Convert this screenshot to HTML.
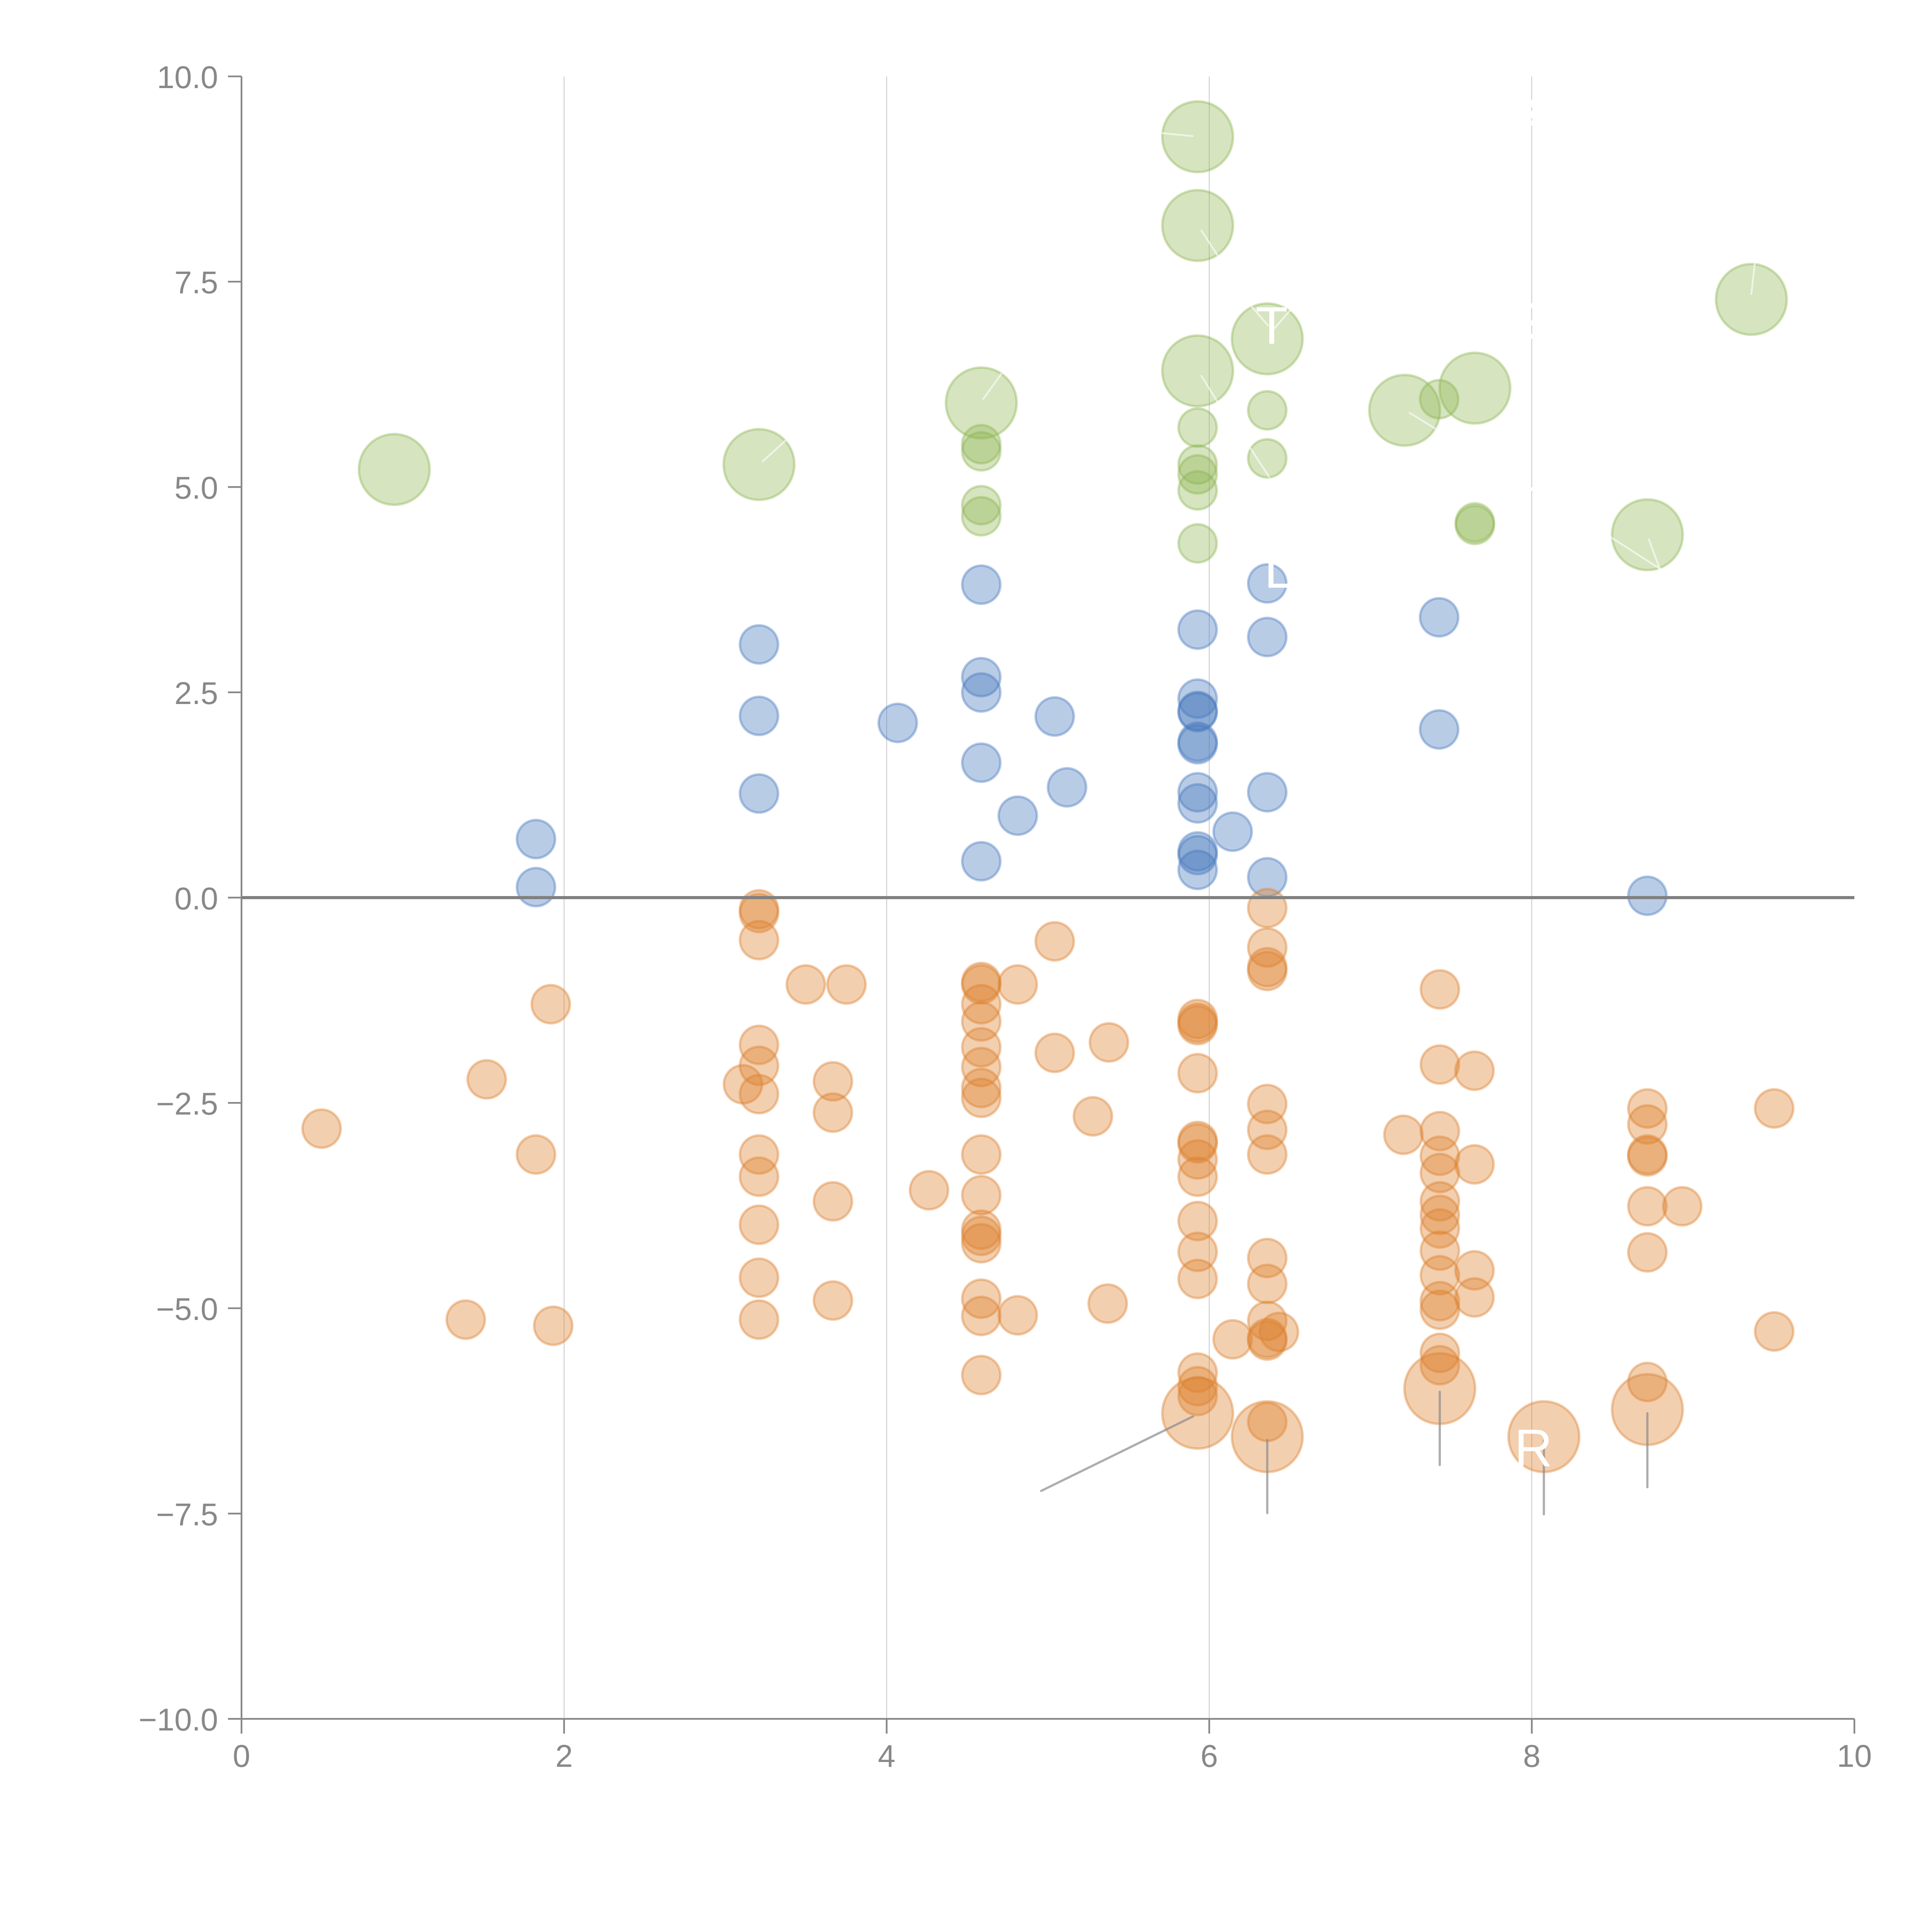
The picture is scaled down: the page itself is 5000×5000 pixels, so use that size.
<!DOCTYPE html>
<html>
<head>
<meta charset="utf-8">
<style>
  html, body { margin: 0; padding: 0; background: #ffffff; }
  svg { display: block; }
  text { font-family: "Liberation Sans", Arial, sans-serif; }
</style>
</head>
<body>
<svg xmlns="http://www.w3.org/2000/svg" width="5000" height="5000" viewBox="0 0 1568 1568">
  <rect x="0" y="0" width="1568" height="1568" fill="#ffffff"/>

  <g stroke="#b0b0b0" stroke-width="0.45">
    <line x1="457.8" y1="62" x2="457.8" y2="1395"/>
    <line x1="719.6" y1="62" x2="719.6" y2="1395"/>
    <line x1="981.4" y1="62" x2="981.4" y2="1395"/>
    <line x1="1243.2" y1="62" x2="1243.2" y2="1395"/>
  </g>
  <g fill="#ffffff">
    <rect x="1241.5" y="81" width="4" height="6"/>
    <rect x="1241.5" y="90" width="4" height="6"/>
    <rect x="1241.5" y="98" width="4" height="4"/>
    <rect x="1241.5" y="246" width="4" height="4"/>
    <rect x="1241.5" y="260" width="4" height="4"/>
    <rect x="1241.5" y="271" width="4" height="4"/>
    <rect x="1241.5" y="395.5" width="4" height="3"/>
  </g>

  <g stroke="#888888" stroke-width="1.4" fill="none">
    <line x1="196" y1="62" x2="196" y2="1395"/>
    <line x1="196" y1="1395" x2="1505" y2="1395"/>
    <line x1="185" y1="62" x2="196" y2="62"/>
    <line x1="185" y1="228.6" x2="196" y2="228.6"/>
    <line x1="185" y1="395.25" x2="196" y2="395.25"/>
    <line x1="185" y1="561.9" x2="196" y2="561.9"/>
    <line x1="185" y1="728.5" x2="196" y2="728.5"/>
    <line x1="185" y1="895.1" x2="196" y2="895.1"/>
    <line x1="185" y1="1061.75" x2="196" y2="1061.75"/>
    <line x1="185" y1="1228.4" x2="196" y2="1228.4"/>
    <line x1="185" y1="1395" x2="196" y2="1395"/>
    <line x1="196" y1="1395" x2="196" y2="1407"/>
    <line x1="457.8" y1="1395" x2="457.8" y2="1407"/>
    <line x1="719.6" y1="1395" x2="719.6" y2="1407"/>
    <line x1="981.4" y1="1395" x2="981.4" y2="1407"/>
    <line x1="1243.2" y1="1395" x2="1243.2" y2="1407"/>
    <line x1="1505" y1="1395" x2="1505" y2="1407"/>
  </g>

  <g fill="#888888" font-size="25.5" text-anchor="end">
    <text x="177" y="71.5">10.0</text>
    <text x="177" y="238.1">7.5</text>
    <text x="177" y="404.75">5.0</text>
    <text x="177" y="571.4">2.5</text>
    <text x="177" y="738">0.0</text>
    <text x="177" y="904.6">−2.5</text>
    <text x="177" y="1071.25">−5.0</text>
    <text x="177" y="1237.9">−7.5</text>
    <text x="177" y="1404.5">−10.0</text>
  </g>
  <g fill="#888888" font-size="25.5" text-anchor="middle">
    <text x="196" y="1434">0</text>
    <text x="457.8" y="1434">2</text>
    <text x="719.6" y="1434">4</text>
    <text x="981.4" y="1434">6</text>
    <text x="1243.2" y="1434">8</text>
    <text x="1505" y="1434">10</text>
  </g>

  <g fill="rgb(140,180,80)" fill-opacity="0.36" stroke="rgb(140,180,80)" stroke-opacity="0.4" stroke-width="2">
    <circle cx="320" cy="381" r="28.7"/>
    <circle cx="616" cy="377" r="28.7"/>
    <circle cx="796.4" cy="327" r="28.7"/>
    <circle cx="972" cy="111" r="28.7"/>
    <circle cx="972" cy="183" r="28.7"/>
    <circle cx="972" cy="301" r="28.7"/>
    <circle cx="1028.5" cy="275" r="28.7"/>
    <circle cx="1140" cy="333" r="28.7"/>
    <circle cx="1197" cy="315" r="28.7"/>
    <circle cx="1421.4" cy="243" r="28.7"/>
    <circle cx="1337" cy="434" r="28.7"/>
    <circle cx="796.4" cy="360.5" r="15.5"/>
    <circle cx="796.4" cy="366.3" r="15.5"/>
    <circle cx="796.4" cy="410" r="15.5"/>
    <circle cx="796.4" cy="419" r="15.5"/>
    <circle cx="972" cy="347" r="15.5"/>
    <circle cx="972" cy="377" r="15.5"/>
    <circle cx="972" cy="385" r="15.5"/>
    <circle cx="972" cy="398" r="15.5"/>
    <circle cx="972" cy="441" r="15.5"/>
    <circle cx="1028.5" cy="333" r="15.5"/>
    <circle cx="1028.5" cy="372" r="15.5"/>
    <circle cx="1168" cy="324" r="15.5"/>
    <circle cx="1197" cy="424" r="15.5"/>
    <circle cx="1197" cy="426" r="15.5"/>
  </g>

  <g fill="rgb(70,120,190)" fill-opacity="0.38" stroke="rgb(70,120,190)" stroke-opacity="0.4" stroke-width="2">
    <circle cx="435" cy="681" r="15.5"/>
    <circle cx="435" cy="720" r="15.5"/>
    <circle cx="616" cy="523" r="15.5"/>
    <circle cx="616" cy="581" r="15.5"/>
    <circle cx="616" cy="644" r="15.5"/>
    <circle cx="728.6" cy="586.7" r="15.5"/>
    <circle cx="796.4" cy="474.5" r="15.5"/>
    <circle cx="796.4" cy="549.6" r="15.5"/>
    <circle cx="796.4" cy="562" r="15.5"/>
    <circle cx="796.4" cy="619" r="15.5"/>
    <circle cx="796.4" cy="699" r="15.5"/>
    <circle cx="826" cy="662" r="15.5"/>
    <circle cx="856" cy="581.5" r="15.5"/>
    <circle cx="866" cy="639" r="15.5"/>
    <circle cx="972" cy="511" r="15.5"/>
    <circle cx="972" cy="567" r="15.5"/>
    <circle cx="972" cy="577" r="15.5"/>
    <circle cx="972" cy="578" r="15.5"/>
    <circle cx="972" cy="602" r="15.5"/>
    <circle cx="972" cy="604" r="15.5"/>
    <circle cx="972" cy="643" r="15.5"/>
    <circle cx="972" cy="652" r="15.5"/>
    <circle cx="972" cy="691" r="15.5"/>
    <circle cx="972" cy="694" r="15.5"/>
    <circle cx="972" cy="706" r="15.5"/>
    <circle cx="1000.4" cy="675" r="15.5"/>
    <circle cx="1028.5" cy="473.5" r="15.5"/>
    <circle cx="1028.5" cy="517" r="15.5"/>
    <circle cx="1028.5" cy="643" r="15.5"/>
    <circle cx="1028.5" cy="712" r="15.5"/>
    <circle cx="1168" cy="501" r="15.5"/>
    <circle cx="1168" cy="592" r="15.5"/>
    <circle cx="1337" cy="727" r="15.5"/>
  </g>

  <g fill="rgb(220,128,45)" fill-opacity="0.38" stroke="rgb(220,128,45)" stroke-opacity="0.4" stroke-width="2">
    <circle cx="261" cy="916" r="15.5"/>
    <circle cx="378" cy="1071" r="15.5"/>
    <circle cx="395" cy="876" r="15.5"/>
    <circle cx="435" cy="937" r="15.5"/>
    <circle cx="447" cy="815" r="15.5"/>
    <circle cx="449" cy="1076" r="15.5"/>
    <circle cx="616" cy="738" r="15.5"/>
    <circle cx="616" cy="741" r="15.5"/>
    <circle cx="616" cy="763" r="15.5"/>
    <circle cx="616" cy="848" r="15.5"/>
    <circle cx="616" cy="865" r="15.5"/>
    <circle cx="616" cy="888" r="15.5"/>
    <circle cx="616" cy="937" r="15.5"/>
    <circle cx="616" cy="955" r="15.5"/>
    <circle cx="616" cy="994" r="15.5"/>
    <circle cx="616" cy="1037" r="15.5"/>
    <circle cx="616" cy="1071" r="15.5"/>
    <circle cx="603" cy="880" r="15.5"/>
    <circle cx="654" cy="799" r="15.5"/>
    <circle cx="687" cy="799" r="15.5"/>
    <circle cx="676" cy="877.6" r="15.5"/>
    <circle cx="676" cy="903" r="15.5"/>
    <circle cx="676" cy="975" r="15.5"/>
    <circle cx="676" cy="1055.5" r="15.5"/>
    <circle cx="754" cy="966" r="15.5"/>
    <circle cx="796.4" cy="797" r="15.5"/>
    <circle cx="796.4" cy="799" r="15.5"/>
    <circle cx="796.4" cy="815" r="15.5"/>
    <circle cx="796.4" cy="829" r="15.5"/>
    <circle cx="796.4" cy="850" r="15.5"/>
    <circle cx="796.4" cy="866" r="15.5"/>
    <circle cx="796.4" cy="883" r="15.5"/>
    <circle cx="796.4" cy="891" r="15.5"/>
    <circle cx="796.4" cy="937" r="15.5"/>
    <circle cx="796.4" cy="970" r="15.5"/>
    <circle cx="796.4" cy="998" r="15.5"/>
    <circle cx="796.4" cy="1003" r="15.5"/>
    <circle cx="796.4" cy="1009" r="15.5"/>
    <circle cx="796.4" cy="1054" r="15.5"/>
    <circle cx="796.4" cy="1068" r="15.5"/>
    <circle cx="796.4" cy="1116" r="15.5"/>
    <circle cx="826" cy="799" r="15.5"/>
    <circle cx="826" cy="1067.5" r="15.5"/>
    <circle cx="856" cy="764" r="15.5"/>
    <circle cx="856" cy="854.5" r="15.5"/>
    <circle cx="900" cy="846" r="15.5"/>
    <circle cx="887" cy="906" r="15.5"/>
    <circle cx="899" cy="1058" r="15.5"/>
    <circle cx="972" cy="827" r="15.5"/>
    <circle cx="972" cy="830" r="15.5"/>
    <circle cx="972" cy="832" r="15.5"/>
    <circle cx="972" cy="871" r="15.5"/>
    <circle cx="972" cy="926" r="15.5"/>
    <circle cx="972" cy="928" r="15.5"/>
    <circle cx="972" cy="941" r="15.5"/>
    <circle cx="972" cy="955" r="15.5"/>
    <circle cx="972" cy="991" r="15.5"/>
    <circle cx="972" cy="1016" r="15.5"/>
    <circle cx="972" cy="1038" r="15.5"/>
    <circle cx="972" cy="1114" r="15.5"/>
    <circle cx="972" cy="1125" r="15.5"/>
    <circle cx="972" cy="1133" r="15.5"/>
    <circle cx="1028.5" cy="737" r="15.5"/>
    <circle cx="1028.5" cy="769" r="15.5"/>
    <circle cx="1028.5" cy="785" r="15.5"/>
    <circle cx="1028.5" cy="788" r="15.5"/>
    <circle cx="1028.5" cy="896" r="15.5"/>
    <circle cx="1028.5" cy="917" r="15.5"/>
    <circle cx="1028.5" cy="937" r="15.5"/>
    <circle cx="1028.5" cy="1021" r="15.5"/>
    <circle cx="1028.5" cy="1042" r="15.5"/>
    <circle cx="1028.5" cy="1072" r="15.5"/>
    <circle cx="1028.5" cy="1086" r="15.5"/>
    <circle cx="1028.5" cy="1088" r="15.5"/>
    <circle cx="1028.5" cy="1154" r="15.5"/>
    <circle cx="1000.4" cy="1087" r="15.5"/>
    <circle cx="1038" cy="1081" r="15.5"/>
    <circle cx="1139" cy="921" r="15.5"/>
    <circle cx="1168.6" cy="803" r="15.5"/>
    <circle cx="1168.6" cy="864" r="15.5"/>
    <circle cx="1168.6" cy="918" r="15.5"/>
    <circle cx="1168.6" cy="938" r="15.5"/>
    <circle cx="1168.6" cy="952" r="15.5"/>
    <circle cx="1168.6" cy="975" r="15.5"/>
    <circle cx="1168.6" cy="986" r="15.5"/>
    <circle cx="1168.6" cy="997" r="15.5"/>
    <circle cx="1168.6" cy="1015" r="15.5"/>
    <circle cx="1168.6" cy="1035" r="15.5"/>
    <circle cx="1168.6" cy="1056" r="15.5"/>
    <circle cx="1168.6" cy="1063" r="15.5"/>
    <circle cx="1168.6" cy="1098" r="15.5"/>
    <circle cx="1168.6" cy="1108" r="15.5"/>
    <circle cx="1196.7" cy="869" r="15.5"/>
    <circle cx="1196.7" cy="945" r="15.5"/>
    <circle cx="1196.7" cy="1031" r="15.5"/>
    <circle cx="1196.7" cy="1053" r="15.5"/>
    <circle cx="1337" cy="899.6" r="15.5"/>
    <circle cx="1337" cy="912.6" r="15.5"/>
    <circle cx="1337" cy="937" r="15.5"/>
    <circle cx="1337" cy="938.5" r="15.5"/>
    <circle cx="1337" cy="979" r="15.5"/>
    <circle cx="1337" cy="1016.4" r="15.5"/>
    <circle cx="1337" cy="1121.6" r="15.5"/>
    <circle cx="1365.3" cy="979" r="15.5"/>
    <circle cx="1439.9" cy="899.6" r="15.5"/>
    <circle cx="1439.9" cy="1080.6" r="15.5"/>
    <circle cx="972" cy="1147" r="28.7"/>
    <circle cx="1028.5" cy="1166" r="28.7"/>
    <circle cx="1168.5" cy="1127" r="28.7"/>
    <circle cx="1253" cy="1166" r="28.7"/>
    <circle cx="1337" cy="1144" r="28.7"/>
  </g>

  <line x1="196" y1="728.5" x2="1505" y2="728.5" stroke="#808080" stroke-width="2.5"/>

  <g stroke="#ffffff" stroke-opacity="0.6" stroke-width="1.5" stroke-linecap="round" fill="none">
    <line x1="943" y1="108" x2="968" y2="110.5"/>
    <line x1="975" y1="187" x2="988" y2="207"/>
    <line x1="975" y1="305" x2="988" y2="326"/>
    <line x1="1016" y1="249" x2="1029" y2="264"/>
    <line x1="1032" y1="269" x2="1047" y2="252"/>
    <line x1="1015" y1="364" x2="1030" y2="387"/>
    <line x1="1144" y1="335" x2="1165" y2="348"/>
    <line x1="619" y1="374.4" x2="637.5" y2="357.6"/>
    <line x1="798" y1="323.7" x2="812.7" y2="303.4"/>
    <line x1="1421.4" y1="238.6" x2="1424.1" y2="214"/>
    <line x1="1307" y1="435.8" x2="1347" y2="461.5"/>
    <line x1="1338.2" y1="437.7" x2="1347" y2="461.5"/>
  </g>

  <g stroke="#8a8a8a" stroke-opacity="0.7" stroke-width="1.8" stroke-linecap="round" fill="none">
    <line x1="968.4" y1="1149.5" x2="845" y2="1210"/>
    <line x1="1028.5" y1="1168.6" x2="1028.5" y2="1228"/>
    <line x1="1168.5" y1="1129.6" x2="1168.5" y2="1189"/>
    <line x1="1253" y1="1169" x2="1253" y2="1229"/>
    <line x1="1337" y1="1147" x2="1337" y2="1207"/>
  </g>

  <g fill="#ffffff" font-size="43">
    <text x="1019" y="279">T</text>
    <text x="1026" y="477">L</text>
    <text x="1229" y="1190">R</text>
  </g>
</svg>
</body>
</html>
